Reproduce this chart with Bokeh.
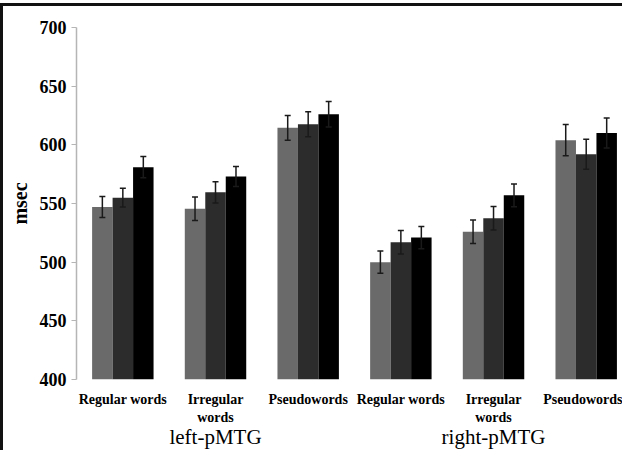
from bokeh.plotting import figure
from bokeh.models import Range1d, FixedTicker, LinearAxis, Whisker, ColumnDataSource, TeeHead
from bokeh.embed import file_html
from bokeh.resources import INLINE

# ---- data ----
categories = ["Regular words", "Irregular\nwords", "Pseudowords",
              "Regular words", "Irregular\nwords", "Pseudowords"]
regions = ["left-pMTG", "right-pMTG"]
region_ticks = [1, 4]
series_a = [547, 545.5, 614.5, 500, 526, 604]
series_b = [555, 559.5, 617.5, 517, 537.5, 592]
series_c = [581, 573, 626, 521, 557, 610]
err_a = [9, 10, 10.6, 9.5, 10, 13.4]
err_b = [8, 9, 10.6, 10, 10, 12.8]
err_c = [9, 8.5, 10.9, 9.5, 9.7, 12.8]
y_ticks = [400, 450, 500, 550, 600, 650, 700]

series = [series_a, series_b, series_c]
errors = [err_a, err_b, err_c]
colors = ["#6a6a6a", "#2c2c2c", "#000000"]
offsets = [-0.221, 0.0, 0.221]
bar_w = 0.221

SERIF = "Liberation Serif"

p = figure(width=622, height=447, output_backend="svg", toolbar_location=None,
           x_range=Range1d(-0.5, 5.424), y_range=Range1d(400, 700),
           min_border_left=73, min_border_right=0, min_border_top=21, min_border_bottom=74)
p.styles = {"border-left": "3px solid #111", "border-top": "3px solid #111",
            "position": "relative", "top": "3px"}

idx = list(range(len(categories)))
for vals, errs, col, off in zip(series, errors, colors, offsets):
    xs = [i + off for i in idx]
    src = ColumnDataSource(dict(x=xs, top=vals,
                                upper=[v + e for v, e in zip(vals, errs)],
                                lower=[v - e for v, e in zip(vals, errs)]))
    p.vbar(x="x", top="top", bottom=400, width=bar_w, source=src,
           fill_color=col, line_color=None)
    w = Whisker(source=src, base="x", upper="upper", lower="lower",
                line_color="#1a1a1a", line_width=1.5, level="overlay",
                upper_head=TeeHead(size=6, line_color="#1a1a1a", line_width=1.5),
                lower_head=TeeHead(size=6, line_color="#1a1a1a", line_width=1.5))
    p.add_layout(w)

p.grid.visible = False
p.outline_line_color = None

# y axis
ya = p.yaxis[0]
ya.ticker = FixedTicker(ticks=y_ticks)
ya.axis_line_color = "#b5b5b5"
ya.axis_line_width = 1.5
ya.major_tick_line_color = "#b5b5b5"
ya.major_tick_in = 0
ya.major_tick_out = 5
ya.minor_tick_line_color = None
ya.minor_tick_in = 0
ya.minor_tick_out = 0
ya.major_label_text_font = SERIF
ya.major_label_text_font_style = "bold"
ya.major_label_text_font_size = "18px"
ya.major_label_text_color = "#000000"
ya.major_label_standoff = 5
ya.axis_label = "msec"
ya.axis_label_text_font = SERIF
ya.axis_label_text_font_style = "bold"
ya.axis_label_text_font_size = "20px"
ya.axis_label_text_color = "#000000"
ya.axis_label_standoff = 6

# x axis: categories
xa = p.xaxis[0]
xa.ticker = FixedTicker(ticks=idx)
xa.major_label_overrides = {i: c for i, c in zip(idx, categories)}
xa.axis_line_color = None
xa.major_tick_line_color = None
xa.minor_tick_line_color = None
xa.major_tick_in = 0
xa.major_tick_out = 0
xa.minor_tick_in = 0
xa.minor_tick_out = 0
xa.major_label_text_font = SERIF
xa.major_label_text_font_style = "bold"
xa.major_label_text_font_size = "14px"
xa.major_label_text_color = "#000000"
xa.major_label_standoff = 12

# x axis: regions
xa2 = LinearAxis(ticker=FixedTicker(ticks=region_ticks),
                 major_label_overrides={t: r for t, r in zip(region_ticks, regions)})
xa2.axis_line_color = None
xa2.major_tick_line_color = None
xa2.minor_tick_line_color = None
xa2.major_tick_in = 0
xa2.major_tick_out = 0
xa2.minor_tick_in = 0
xa2.minor_tick_out = 0
xa2.major_label_text_font = SERIF
xa2.major_label_text_font_size = "21px"
xa2.major_label_text_color = "#000000"
xa2.major_label_standoff = -3
p.add_layout(xa2, "below")

open("out.html", "w").write(file_html(p, INLINE))
